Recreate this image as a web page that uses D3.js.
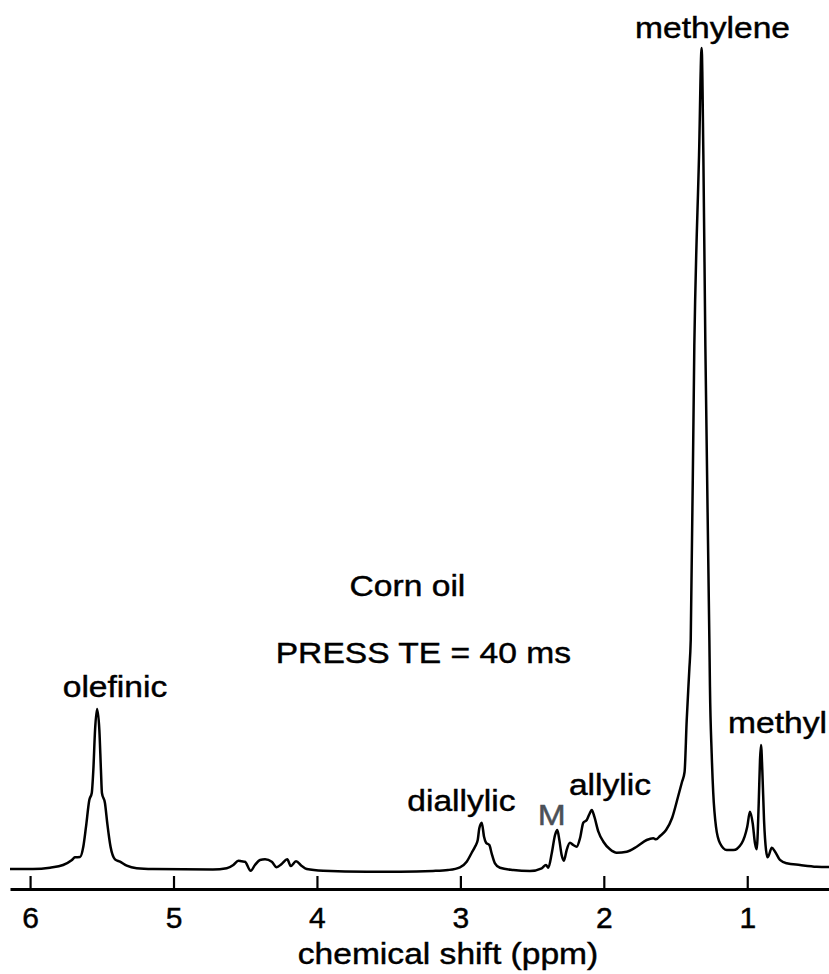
<!doctype html>
<html>
<head>
<meta charset="utf-8">
<script src="https://cdn.jsdelivr.net/npm/d3@7"></script>
<style>
  body { margin: 0; background: #fff; }
  svg { display: block; font-family: "Liberation Sans", Arial, Helvetica, sans-serif; }
  .lbl { font-size: 30px; stroke: currentColor; stroke-width: 0.45px; }
</style>
</head>
<body>
<svg id="chart" width="829" height="974"></svg>
<script>
  // spectrum trace: chemical shift (ppm) and
  // intensity in arbitrary units (methylene peak = 100)
  var shiftPpm = [
    6.140, 5.980, 5.861, 5.770, 5.708, 5.687, 5.652, 5.629, 5.610, 5.587,
    5.570, 5.559, 5.547, 5.533, 5.517, 5.506, 5.499, 5.478, 5.462, 5.439,
    5.408, 5.373, 5.326, 5.257, 5.143, 4.725, 4.629, 4.583, 4.548, 4.525,
    4.502, 4.462, 4.432, 4.397, 4.362, 4.315, 4.281, 4.246, 4.207, 4.183,
    4.146, 4.106, 4.071, 3.956, 3.653, 3.421, 3.191, 3.086, 3.003, 2.956,
    2.921, 2.898, 2.879, 2.868, 2.851, 2.835, 2.821, 2.798, 2.782, 2.759,
    2.724, 2.631, 2.515, 2.433, 2.403, 2.387, 2.363, 2.340, 2.324, 2.310,
    2.294, 2.278, 2.259, 2.236, 2.213, 2.189, 2.166, 2.143, 2.119, 2.101,
    2.084, 2.066, 2.038, 2.003, 1.957, 1.910, 1.840, 1.771, 1.701, 1.655,
    1.636, 1.608, 1.566, 1.524, 1.483, 1.455, 1.437, 1.422, 1.404, 1.394,
    1.369, 1.336, 1.318, 1.306, 1.292, 1.264, 1.260, 1.248, 1.237, 1.218,
    1.190, 1.143, 1.097, 1.039, 1.000, 0.981, 0.962, 0.946, 0.934, 0.920,
    0.911, 0.904, 0.895, 0.883, 0.869, 0.857, 0.829, 0.806, 0.772, 0.725,
    0.632, 0.516, 0.430
  ];
  var intensity = [
    0.12, 0.12, 0.28, 0.61, 1.22, 1.54, 1.58, 2.83, 5.27, 8.52,
    9.37, 12.17, 17.03, 19.59, 17.03, 12.17, 9.37, 8.15, 5.72, 2.83,
    1.30, 1.01, 0.52, 0.21, 0.12, 0.06, 0.21, 0.61, 1.13, 1.06,
    1.01, -0.09, 0.61, 1.22, 1.30, 1.01, 0.33, 0.73, 1.30, 0.49,
    1.06, 0.49, 0.12, -0.09, -0.21, -0.21, -0.12, 0.00, 0.33, 1.01,
    2.10, 2.83, 3.65, 5.07, 5.75, 4.05, 3.32, 3.04, 2.03, 0.82,
    0.28, 0.00, -0.12, 0.21, 0.61, 0.28, 2.03, 4.26, 4.87, 3.65,
    1.82, 1.13, 2.43, 3.32, 3.04, 2.83, 3.86, 5.75, 6.08, 6.78,
    7.30, 6.48, 4.66, 3.44, 2.52, 2.10, 2.23, 2.83, 3.65, 3.86,
    3.73, 4.14, 4.87, 6.33, 8.88, 10.71, 11.92, 18.25, 24.33, 27.98,
    63.74, 86.98, 100.00, 86.98, 63.74, 27.98, 22.30, 14.20, 9.37, 5.27,
    3.25, 2.43, 2.43, 3.25, 5.27, 7.09, 5.68, 3.25, 2.52, 8.11,
    13.38, 15.21, 12.17, 6.08, 2.43, 1.54, 2.71, 2.23, 1.22, 0.82,
    0.61, 0.40, 0.36
  ];

  var tickValues = [6, 5, 4, 3, 2, 1];

  // peak annotations, anchored in data space (ppm, intensity)
  var peakLabels = ['methylene', 'olefinic', 'diallylic', 'M', 'allylic', 'methyl'];
  var peakLabelPpm = [1.242, 5.408, 2.993, 2.363, 1.957, 0.789];
  var peakLabelLevel = [101.2, 21.08, 7.18, 5.47, 9.12, 16.67];

  var noteLines = ['Corn oil', 'PRESS TE = 40 ms'];
  var notePpm = [3.369, 3.258];
  var noteLevel = [33.33, 25.18];

  var axisTitle = 'chemical shift (ppm)';

  var svg = d3.select('#chart');

  var x = d3.scaleLinear().domain([6.14, 0.43]).range([10, 829]);
  var y = d3.scaleLinear().domain([0, 100]).range([870, 48]);

  // text in the figure is a little wider than Arial at its height
  var stretch = 1.12;

  // axis: line along the bottom, ticks pointing up into the plot
  var axis = svg.append('g')
    .attr('transform', 'translate(0,889)')
    .call(d3.axisBottom(x)
      .tickValues(tickValues)
      .tickSize(-13)
      .tickSizeOuter(0)
      .tickPadding(18)
      .tickFormat(d3.format('d')));

  axis.attr('font-family', null).attr('font-size', null);
  axis.select('.domain').attr('stroke', '#000').attr('stroke-width', 3);
  axis.selectAll('.tick line').attr('stroke', '#000').attr('stroke-width', 2.2);
  axis.selectAll('.tick text')
    .attr('fill', '#000')
    .attr('class', 'lbl')
    .style('color', '#000');

  svg.append('text')
    .attr('class', 'lbl')
    .attr('transform', 'translate(448,964) scale(' + stretch + ',1)')
    .attr('text-anchor', 'middle')
    .style('color', '#000')
    .text(axisTitle);

  // spectrum
  var line = d3.line()
    .x(function (i) { return x(shiftPpm[i]); })
    .y(function (i) { return y(intensity[i]); })
    .curve(d3.curveMonotoneX);

  svg.append('path')
    .datum(d3.range(shiftPpm.length))
    .attr('d', line)
    .attr('fill', 'none')
    .attr('stroke', '#000')
    .attr('stroke-width', 2.5)
    .attr('stroke-linejoin', 'round');

  svg.append('g').selectAll('text')
    .data(peakLabels)
    .enter().append('text')
    .attr('class', 'lbl')
    .attr('transform', function (d, i) {
      return 'translate(' + x(peakLabelPpm[i]) + ',' + y(peakLabelLevel[i]) + ') scale(' + stretch + ',1)';
    })
    .attr('text-anchor', 'middle')
    .style('color', function (d) { return d === 'M' ? '#4b5057' : '#000'; })
    .attr('fill', 'currentColor')
    .text(function (d) { return d; });

  svg.append('g').selectAll('text')
    .data(noteLines)
    .enter().append('text')
    .attr('class', 'lbl')
    .attr('transform', function (d, i) {
      return 'translate(' + x(notePpm[i]) + ',' + y(noteLevel[i]) + ') scale(' + stretch + ',1)';
    })
    .attr('text-anchor', 'middle')
    .style('color', '#000')
    .attr('fill', 'currentColor')
    .text(function (d) { return d; });
</script>
</body>
</html>
